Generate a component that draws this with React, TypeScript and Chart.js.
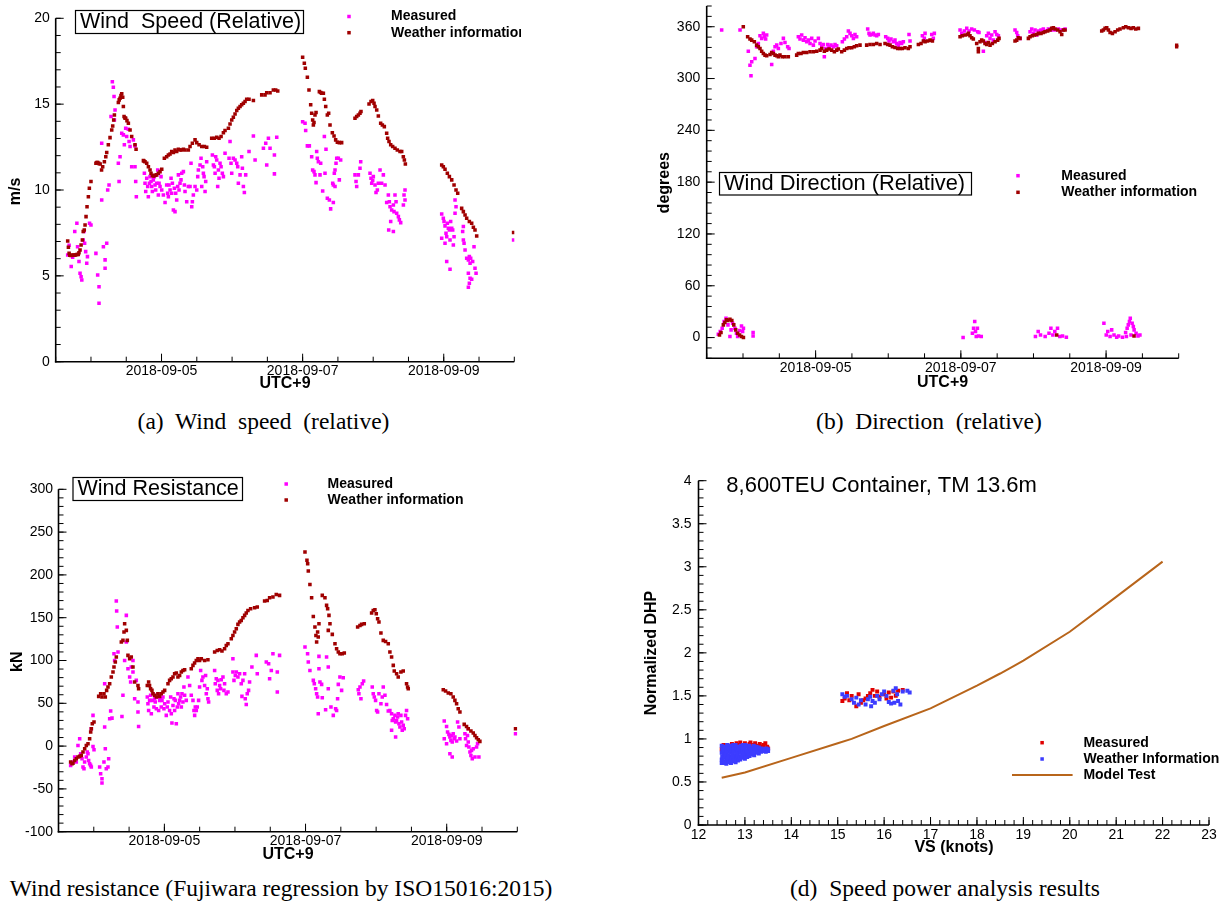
import React, { useEffect, useRef } from 'react';
import { Chart, registerables } from 'chart.js';

Chart.register(...registerables);

const SANS = "'Liberation Sans', Arial, Helvetica, sans-serif";
const SERIF = "'Liberation Serif', 'Times New Roman', serif";
const MAGENTA = '#ff00ff';
const DARKRED = '#a00000';
const RED = '#e00000';
const BLUE = '#3c3cff';
const BROWN = '#b8651b';

// ---------- tick values / labels ----------
const dateTickDays = [5, 7, 9];
const dateTickLabels = ['2018-09-05', '2018-09-07', '2018-09-09'];
const speedTicks = [0, 5, 10, 15, 20];
const directionTicks = [0, 60, 120, 180, 240, 300, 360];
const resistanceTicks = [-100, -50, 0, 50, 100, 150, 200, 250, 300];
const dhpTicks = [0, 0.5, 1, 1.5, 2, 2.5, 3, 3.5, 4];
const vsTicks = [12, 13, 14, 15, 16, 17, 18, 19, 20, 21, 22, 23];

// ---------- (a) wind speed, x = day of September 2018 ----------
const speedWeather = [
  [3.67, 7.03], [3.68, 6.66], [3.69, 6.31], [3.70, 6.2], [3.717, 6.18], [3.73, 6.2], [3.75, 6.22], [3.765, 6.2], [3.78, 6.22], [3.80, 6.24], [3.82, 6.25], [3.83, 6.35], [3.845, 6.51], [3.86, 6.8], [3.878, 7.09], [3.89, 7.58], [3.905, 7.67], [3.916, 7.96], [3.93, 8.45], [3.944, 9.03], [3.963, 9.61], [3.977, 10.1], [4.0, 10.49],
  [4.07, 11.56], [4.083, 11.6], [4.095, 11.6], [4.11, 11.55], [4.13, 11.52], [4.15, 11.17], [4.166, 11.36], [4.19, 11.65], [4.21, 11.94], [4.223, 12.18], [4.246, 12.63], [4.27, 13.05], [4.294, 13.5], [4.308, 13.73], [4.322, 14.08], [4.332, 14.37], [4.388, 15.09], [4.40, 15.25], [4.412, 15.34], [4.425, 15.5], [4.436, 15.6], [4.45, 15.4], [4.459, 14.86], [4.469, 14.28], [4.48, 14.2], [4.492, 14.18], [4.51, 14.04], [4.53, 13.89], [4.554, 13.5], [4.577, 13.11], [4.624, 12.63], [4.639, 12.37],
  [4.743, 11.71], [4.755, 11.68], [4.766, 11.65], [4.79, 11.56], [4.814, 11.36], [4.837, 11.17], [4.851, 10.97], [4.87, 10.84], [4.885, 10.82], [4.899, 10.84], [4.915, 10.86], [4.932, 10.88], [4.955, 10.97], [4.979, 11.07], [5.003, 11.21],
  [5.04, 11.85], [5.073, 11.94], [5.097, 12.04], [5.121, 12.1], [5.144, 12.24], [5.168, 12.18], [5.191, 12.33], [5.215, 12.24], [5.239, 12.37], [5.262, 12.33], [5.286, 12.33], [5.31, 12.37], [5.333, 12.33],
  [5.38, 12.33], [5.404, 12.53], [5.437, 12.72], [5.475, 12.92], [5.499, 12.76], [5.532, 12.63], [5.57, 12.53], [5.607, 12.53], [5.64, 12.49],
  [5.711, 13.01], [5.749, 13.01], [5.782, 13.07], [5.815, 13.01], [5.844, 13.11], [5.877, 13.34], [5.9, 13.46],
  [5.948, 13.6], [5.971, 13.85], [5.995, 14.08], [6.018, 14.24], [6.042, 14.43], [6.066, 14.63], [6.089, 14.76], [6.113, 14.86], [6.136, 14.96], [6.16, 15.05], [6.184, 15.15], [6.207, 15.29], [6.24, 15.29], [6.302, 15.21],
  [6.42, 15.54], [6.467, 15.54], [6.491, 15.67], [6.538, 15.67], [6.585, 15.83], [6.618, 15.83], [6.647, 15.77],
  [7.0, 17.73], [7.024, 17.38], [7.038, 17.09], [7.067, 16.57], [7.09, 15.83], [7.114, 14.96], [7.128, 14.47], [7.142, 14.08], [7.152, 13.79], [7.161, 13.93], [7.175, 14.37], [7.19, 14.51], [7.237, 15.73], [7.255, 15.68], [7.27, 15.64], [7.294, 15.64], [7.308, 15.29], [7.327, 14.86], [7.35, 14.37], [7.369, 14.47], [7.388, 13.79], [7.421, 13.34], [7.445, 13.15], [7.468, 12.92], [7.492, 12.78], [7.52, 12.76], [7.553, 12.76],
  [7.742, 14.18], [7.766, 14.28], [7.79, 14.37], [7.813, 14.47], [7.827, 14.57],
  [7.941, 15.01], [7.969, 15.15], [7.993, 15.21], [8.012, 15.05], [8.026, 14.86], [8.05, 14.66], [8.073, 14.31], [8.106, 13.89], [8.13, 13.79], [8.158, 13.69], [8.191, 13.3], [8.205, 13.01], [8.224, 12.82], [8.248, 12.63], [8.276, 12.53], [8.309, 12.43], [8.342, 12.33], [8.38, 12.24], [8.404, 12.24], [8.427, 11.94], [8.442, 11.75], [8.456, 11.52],
  [8.971, 11.46], [8.994, 11.36], [9.018, 11.21], [9.051, 10.97], [9.08, 10.78], [9.113, 10.59], [9.146, 10.29], [9.174, 10.0], [9.198, 9.81],
  [9.254, 8.93], [9.278, 8.74], [9.302, 8.55], [9.325, 8.35], [9.363, 8.16], [9.396, 8.06], [9.42, 7.83], [9.443, 7.67], [9.467, 7.32],
  [9.99, 7.52],
];
const speedMeasured = [
  [3.67, 6.22], [3.69, 6.78], [3.72, 5.54], [3.74, 6.08], [3.77, 7.58], [3.80, 8.06], [3.81, 6.7], [3.83, 5.83], [3.845, 5.15], [3.86, 4.95], [3.87, 4.76], [3.89, 7.09], [3.90, 7.58], [3.91, 6.9], [3.925, 6.41], [3.94, 5.73], [3.95, 6.12], [3.98, 8.06], [4.0, 7.96],
  [4.07, 6.31], [4.095, 5.05], [4.114, 4.37], [4.114, 3.4], [4.152, 9.42], [4.176, 6.7], [4.2, 5.93], [4.2, 5.44], [4.223, 6.9], [4.237, 10.0], [4.256, 10.29], [4.152, 12.72], [4.284, 14.28], [4.303, 16.31], [4.317, 15.98], [4.327, 15.44], [4.341, 14.66], [4.332, 14.08], [4.388, 11.56], [4.398, 10.49], [4.412, 11.94], [4.436, 13.3], [4.459, 13.21], [4.473, 12.63], [4.492, 13.6], [4.506, 13.11], [4.53, 13.54], [4.54, 12.82], [4.554, 12.53], [4.577, 11.36], [4.601, 12.92], [4.624, 12.57], [4.624, 11.36], [4.634, 10.49], [4.643, 9.61],
  [4.757, 10.97], [4.766, 10.39], [4.776, 9.91], [4.79, 10.68], [4.804, 10.2], [4.813, 9.61], [4.828, 10.39], [4.837, 10.78], [4.851, 10.49], [4.861, 10.2], [4.87, 9.91], [4.884, 10.59], [4.898, 10.78], [4.908, 10.29], [4.917, 10.0], [4.932, 10.39], [4.946, 11.17], [4.955, 9.71], [4.965, 10.39], [4.979, 10.2], [4.993, 10.78], [5.003, 10.0], [5.026, 9.71], [5.05, 9.27], [5.073, 10.29], [5.087, 9.81], [5.097, 9.61], [5.106, 10.29], [5.121, 10.0], [5.135, 10.68], [5.144, 9.81], [5.154, 10.39], [5.168, 8.84], [5.182, 10.1], [5.191, 8.74], [5.201, 9.81], [5.215, 9.42], [5.229, 10.2], [5.239, 10.88], [5.248, 10.0], [5.262, 10.39], [5.276, 10.59], [5.286, 10.97], [5.31, 11.07], [5.324, 10.29], [5.333, 9.91], [5.357, 9.32], [5.38, 10.2], [5.404, 10.2], [5.418, 11.56], [5.428, 9.03], [5.437, 9.32], [5.451, 9.71], [5.475, 10.2], [5.499, 10.0], [5.513, 10.78], [5.522, 11.17], [5.546, 11.46], [5.56, 11.85], [5.57, 10.2], [5.584, 11.36], [5.593, 10.97], [5.603, 10.78], [5.617, 9.91], [5.626, 10.49], [5.64, 11.65],
  [5.721, 12.04], [5.735, 11.46], [5.749, 11.36], [5.759, 10.97], [5.768, 11.94], [5.782, 11.75], [5.796, 10.2], [5.806, 11.17], [5.815, 10.68], [5.829, 11.56], [5.844, 11.36], [5.862, 10.97], [5.877, 10.78], [5.9, 12.14], [5.957, 11.85], [5.971, 12.82], [5.985, 11.56], [5.995, 10.97], [6.018, 11.85], [6.042, 11.75], [6.066, 11.56], [6.08, 11.36], [6.089, 10.39], [6.113, 10.88], [6.136, 11.94], [6.146, 11.27], [6.16, 10.2], [6.174, 9.85], [6.193, 10.88], [6.24, 12.24], [6.302, 13.15], [6.326, 11.75], [6.444, 12.43], [6.477, 12.72], [6.491, 11.46], [6.515, 13.01], [6.538, 12.43], [6.6, 12.04], [6.6, 10.94], [6.633, 13.07],
  [7.0, 13.98], [7.034, 13.89], [7.043, 13.46], [7.067, 12.57], [7.095, 12.57], [7.128, 11.94], [7.142, 11.17], [7.161, 11.07], [7.175, 10.88], [7.19, 10.43], [7.199, 12.24], [7.208, 11.85], [7.223, 11.65], [7.246, 10.88], [7.256, 11.56], [7.284, 9.94], [7.308, 13.11], [7.317, 10.97], [7.331, 12.37], [7.35, 9.52], [7.379, 9.42], [7.397, 8.9], [7.426, 10.39], [7.435, 9.27], [7.449, 10.97], [7.459, 11.17], [7.473, 11.56], [7.483, 11.85], [7.506, 11.85], [7.52, 10.59], [7.539, 11.75], [7.459, 10.2], [7.435, 10.29],
  [7.742, 10.88], [7.757, 10.49], [7.766, 10.2], [7.79, 10.88], [7.813, 11.27], [7.823, 11.65], [7.955, 10.97], [7.969, 10.68], [7.979, 10.39], [7.993, 10.55], [8.002, 10.78], [8.026, 10.29], [8.04, 9.85], [8.059, 10.0], [8.073, 10.39], [8.097, 11.17], [8.12, 10.39], [8.144, 10.88], [8.168, 10.29], [8.191, 9.27], [8.215, 9.71], [8.229, 9.32], [8.239, 9.03], [8.248, 8.16], [8.262, 8.84], [8.286, 9.13], [8.295, 8.74], [8.309, 9.71], [8.324, 9.32], [8.333, 8.64], [8.357, 8.45], [8.371, 8.26], [8.39, 8.1], [8.286, 7.58], [8.22, 7.67], [8.428, 9.13], [8.451, 10.0], [8.451, 9.42], [8.437, 9.71],
  [8.971, 8.6], [8.994, 8.35], [9.004, 8.16], [9.018, 7.91], [9.032, 7.48], [9.042, 7.28], [9.051, 8.06], [9.065, 7.77], [9.08, 7.67], [9.089, 7.09], [9.098, 8.16], [9.113, 7.77], [9.127, 7.67], [9.136, 6.8], [9.146, 7.28], [9.16, 9.42], [9.16, 8.64], [9.174, 9.03], [9.042, 5.83], [9.089, 5.38], [8.971, 7.19], [9.018, 6.9], [9.268, 7.58], [9.278, 7.09], [9.288, 6.9], [9.302, 6.51], [9.325, 6.02], [9.349, 5.93], [9.363, 6.12], [9.373, 5.73], [9.382, 6.02], [9.41, 5.83], [9.429, 6.7], [9.443, 5.44], [9.458, 5.15], [9.349, 5.15], [9.373, 4.86], [9.396, 4.8], [9.363, 4.57], [9.349, 4.33], [9.278, 7.87],
  [9.99, 7.09],
];

// ---------- (b) wind direction ----------
const directionWeather = [
  [3.676, 3.1], [3.697, 5.8], [3.729, 14.7], [3.75, 17.4], [3.772, 20.5], [3.793, 19.7], [3.82, 21.3], [3.846, 19.7], [3.873, 14.7], [3.899, 8.9], [3.926, 5.0], [3.953, 3.1], [3.979, 1.2], [4.006, 0],
  [4.004, 360], [4.064, 348.4], [4.096, 345.7], [4.12, 344.5], [4.156, 342.6], [4.188, 338.7], [4.211, 336.8], [4.234, 334.9], [4.257, 331.7], [4.28, 329.0], [4.303, 327.1], [4.326, 326.3],
  [4.372, 327.9], [4.395, 330.2], [4.418, 329.0], [4.441, 327.1], [4.464, 326.3], [4.487, 325.2], [4.509, 327.1], [4.541, 325.2], [4.578, 325.2], [4.624, 325.2],
  [4.739, 327.1], [4.762, 329.0], [4.799, 329.0], [4.831, 330.2], [4.877, 330.2], [4.923, 331.0], [4.969, 331.0], [5.015, 331.7],
  [5.061, 332.9], [5.084, 334.9], [5.12, 331.7], [5.152, 332.9], [5.184, 334.1], [5.221, 332.9], [5.258, 331.0], [5.29, 332.9], [5.313, 334.1],
  [5.359, 331.0], [5.396, 332.9], [5.428, 334.9], [5.46, 335.6], [5.497, 335.6], [5.533, 336.8], [5.565, 337.9], [5.611, 338.7],
  [5.703, 338.7], [5.749, 339.5], [5.795, 339.5], [5.841, 340.6], [5.887, 339.5],
  [5.956, 340.6], [5.993, 339.5], [6.025, 338.7], [6.057, 336.8], [6.093, 336.0], [6.13, 334.9], [6.162, 334.9], [6.194, 334.9], [6.231, 335.6], [6.277, 334.9], [6.3, 336.8],
  [6.415, 339.5], [6.452, 340.6], [6.484, 343.4], [6.507, 342.6], [6.543, 343.4], [6.576, 344.5], [6.608, 343.4],
  [6.989, 348.4], [7.021, 349.6], [7.058, 350.3], [7.094, 351.1], [7.104, 352.3], [7.126, 349.6], [7.149, 347.2], [7.172, 345.7], [7.218, 340.6], [7.241, 334.9], [7.241, 331.0], [7.264, 342.6], [7.287, 344.5], [7.31, 343.4], [7.333, 340.6], [7.356, 339.5], [7.379, 341.8], [7.402, 338.7], [7.434, 340.6], [7.471, 342.6], [7.507, 344.5], [7.526, 346.5],
  [7.746, 343.4], [7.769, 344.5], [7.792, 347.2], [7.815, 346.5],
  [7.93, 346.5], [7.953, 348.4], [7.985, 349.6], [8.012, 350.3], [8.045, 351.1], [8.068, 352.3], [8.104, 352.3], [8.136, 353.4], [8.159, 354.2], [8.196, 355.0], [8.228, 356.1], [8.251, 358.1], [8.274, 358.8], [8.297, 357.3], [8.334, 356.1], [8.366, 354.2], [8.389, 351.1], [8.412, 356.1], [8.435, 356.1],
  [8.32, 3.1], [9.385, 1.9],
  [8.94, 355.0], [8.963, 356.1], [8.986, 358.1], [9.009, 358.8], [9.032, 356.1], [9.055, 353.4], [9.087, 352.3], [9.124, 354.2], [9.16, 356.1], [9.192, 357.3],
  [9.238, 358.8], [9.271, 360.0], [9.307, 358.8], [9.344, 358.1], [9.376, 358.8], [9.408, 357.3], [9.445, 358.1],
  [9.973, 336.8], [9.973, 338.5],
];
const directionMeasured = [
  [3.706, 356.1], [3.959, 356.1], [4.073, 331.7], [4.096, 315.5], [4.11, 303.1], [4.12, 319.4], [4.165, 323.2], [4.188, 336.8], [4.211, 340.6], [4.234, 349.6], [4.257, 346.5], [4.28, 352.3], [4.294, 348.4], [4.312, 345.7], [4.326, 350.3],
  [4.395, 316.3], [4.418, 331.7], [4.441, 336.8], [4.464, 338.7], [4.487, 334.9], [4.523, 340.6], [4.556, 346.5], [4.578, 341.8], [4.615, 336.8], [4.634, 334.9],
  [4.762, 348.4], [4.785, 345.7], [4.808, 350.3], [4.831, 344.5], [4.854, 347.2], [4.877, 342.6], [4.9, 344.5], [4.923, 340.6], [4.946, 346.5], [4.969, 338.7], [4.992, 343.4], [5.038, 346.5], [5.061, 340.6], [5.084, 336.8], [5.106, 339.5], [5.12, 325.2], [5.139, 334.9], [5.166, 339.5], [5.184, 336.8], [5.212, 338.7], [5.244, 336.8], [5.267, 339.5], [5.29, 337.9],
  [5.368, 342.6], [5.396, 345.7], [5.428, 348.4], [5.451, 355.0], [5.474, 352.3], [5.497, 349.6], [5.52, 346.5], [5.542, 351.1], [5.565, 348.4],
  [5.717, 357.3], [5.735, 352.3], [5.749, 350.3], [5.772, 351.1], [5.795, 352.3], [5.818, 350.3], [5.841, 349.6], [5.864, 351.1],
  [5.965, 348.4], [5.993, 346.5], [6.011, 343.4], [6.038, 345.7], [6.07, 342.6], [6.093, 344.5], [6.116, 340.6], [6.139, 338.7], [6.162, 341.8], [6.185, 340.6], [6.208, 342.6], [6.286, 351.1], [6.3, 343.4],
  [6.47, 349.6], [6.497, 346.5], [6.507, 352.3], [6.599, 351.1], [6.621, 346.5], [6.635, 352.3],
  [6.989, 356.1], [7.012, 352.3], [7.048, 355.0], [7.081, 358.1], [7.113, 355.0], [7.149, 357.3], [7.186, 356.1], [7.232, 354.2], [7.25, 353.4],
  [7.31, 331.7], [7.333, 341.8], [7.356, 349.6], [7.379, 352.3], [7.402, 346.5], [7.425, 350.3], [7.448, 344.5], [7.471, 354.2], [7.494, 351.1], [7.517, 349.6],
  [7.746, 356.1], [7.769, 353.4], [7.783, 349.6], [7.815, 346.5],
  [7.953, 354.2], [7.976, 357.3], [7.999, 352.3], [8.022, 356.1], [8.045, 350.3], [8.068, 355.0], [8.104, 356.1], [8.136, 357.3], [8.159, 355.0], [8.205, 357.3], [8.251, 356.1], [8.297, 356.1], [8.343, 357.3], [8.389, 356.1], [8.435, 357.3],
  [3.66, 3.9], [3.686, 7.0], [3.713, 10.8], [3.74, 18.6], [3.766, 22.4], [3.793, 14.7], [3.82, 1.2], [3.836, 8.9], [3.857, 16.6], [3.889, 10.8], [3.91, 5.0], [3.926, 1.2], [3.953, 8.1], [3.979, 13.5], [3.995, 7.0], [4.006, 10.8], [4.139, 5.8], [4.139, 1.9],
  [7.031, 0], [7.159, 5.0], [7.175, 10.8], [7.191, 18.6], [7.202, 7.0], [7.212, 1.2], [7.244, 1.9], [7.281, 1.2], [7.228, 10.8],
  [8.027, 1.2], [8.065, 7.0], [8.097, 3.1], [8.161, 1.2], [8.214, 5.0], [8.24, 10.8], [8.267, 3.1], [8.294, 7.0], [8.331, 10.8], [8.363, 1.2], [8.4, 1.9], [8.453, 0.4],
  [8.97, 16.6], [9.002, 3.1], [9.023, 7.0], [9.055, 1.2], [9.077, 8.9], [9.109, 3.1], [9.146, 0.4], [9.173, 1.9], [9.226, 0.4], [9.269, 5.8], [9.29, 10.8], [9.306, 14.7], [9.322, 18.6], [9.333, 22.4], [9.359, 16.6], [9.375, 12.8], [9.386, 8.9], [9.413, 5.0], [9.439, 1.9], [9.466, 3.1], [9.343, 3.1], [9.28, 1.2],
];

// ---------- (c) wind resistance ----------
const resistanceWeather = [
  [3.672, -18.7], [3.691, -20.6], [3.705, -20.0], [3.729, -16.7], [3.752, -14.8], [3.776, -12.8], [3.8, -12.0], [3.823, -10.9], [3.847, -7.0], [3.871, -3.1], [3.894, 0.8], [3.918, 2.8], [3.941, 8.6], [3.956, 16.4], [3.965, 20.3], [3.979, 26.1], [4.003, 28.1],
  [4.069, 58.1], [4.097, 61.2], [4.116, 57.3], [4.144, 61.2], [4.163, 57.3], [4.182, 65.1], [4.201, 69.0], [4.225, 72.9], [4.248, 80.7], [4.272, 86.5], [4.286, 92.3], [4.305, 98.2], [4.319, 104.0], [4.39, 121.5], [4.413, 123.5], [4.428, 133.2], [4.437, 142.9], [4.461, 135.2], [4.475, 123.5], [4.484, 106.0], [4.508, 102.1], [4.531, 104.0], [4.555, 92.3], [4.579, 74.8], [4.626, 70.9], [4.635, 67.0],
  [4.758, 70.9], [4.777, 74.8], [4.79, 70.9], [4.805, 67.0], [4.824, 65.1], [4.838, 61.2], [4.862, 59.3], [4.886, 57.3], [4.909, 61.2], [4.933, 58.1], [4.956, 61.2], [4.98, 63.1], [5.004, 65.1],
  [5.051, 72.9], [5.074, 76.8], [5.098, 78.7], [5.122, 80.7], [5.145, 84.6], [5.169, 85.4], [5.192, 80.7], [5.216, 82.6], [5.24, 86.5], [5.263, 88.4], [5.287, 89.2],
  [5.381, 90.4], [5.405, 94.3], [5.428, 97.0], [5.452, 100.1], [5.476, 102.1], [5.499, 100.1], [5.523, 102.1], [5.57, 100.1], [5.617, 100.9],
  [5.712, 109.9], [5.749, 111.8], [5.783, 112.6], [5.816, 111.0], [5.853, 113.8], [5.877, 117.6], [5.901, 119.6],
  [5.948, 125.4], [5.971, 129.3], [5.995, 133.2], [6.019, 137.1], [6.042, 142.2], [6.066, 144.9], [6.089, 146.8], [6.113, 150.0], [6.137, 152.7], [6.16, 155.4], [6.184, 158.5], [6.222, 160.5], [6.278, 161.7], [6.316, 162.4],
  [6.42, 169.4], [6.457, 170.2], [6.491, 173.3], [6.538, 174.1], [6.585, 177.2], [6.632, 176.1],
  [6.992, 226.7], [7.02, 217.0], [7.03, 213.0], [7.039, 204.5], [7.062, 188.9], [7.086, 173.3], [7.11, 151.5], [7.133, 139.1], [7.147, 129.3], [7.157, 121.5], [7.171, 133.2], [7.18, 127.4], [7.19, 143.0], [7.237, 176.1], [7.275, 173.3], [7.298, 164.4], [7.313, 160.5], [7.322, 135.2], [7.332, 152.7], [7.346, 143.0], [7.379, 130.5], [7.417, 119.6], [7.44, 113.7], [7.464, 109.9], [7.487, 107.9], [7.52, 107.9], [7.549, 108.7],
  [7.738, 139.1], [7.771, 141.0], [7.794, 142.2], [7.832, 143.0],
  [7.936, 155.4], [7.959, 158.5], [7.983, 159.3], [8.002, 154.6], [8.021, 148.8], [8.04, 144.9], [8.068, 132.1], [8.101, 123.5], [8.134, 122.3], [8.172, 119.6], [8.195, 109.9], [8.219, 104.0], [8.243, 94.3], [8.257, 87.7], [8.29, 84.6], [8.313, 80.7], [8.351, 86.5], [8.384, 87.7], [8.431, 72.9], [8.446, 69.0], [8.455, 67.0],
  [8.951, 65.9], [8.984, 64.3], [9.022, 62.0], [9.059, 61.2], [9.092, 57.3], [9.116, 53.4], [9.14, 49.5], [9.163, 43.7], [9.187, 39.8],
  [9.248, 25.4], [9.281, 23.0], [9.305, 20.3], [9.343, 17.6], [9.376, 15.2], [9.4, 12.5], [9.423, 9.8], [9.447, 7.4], [9.47, 5.5],
  [9.975, 20.3],
];
const resistanceMeasured = [
  [3.672, -22.5], [3.705, -18.6], [3.729, -12.8], [3.752, -18.6], [3.776, 0.8], [3.8, 8.6], [3.814, -8.9], [3.833, -14.8], [3.847, -24.5], [3.861, -26.4], [3.87, -18.6], [3.894, -12.8], [3.908, -7.0], [3.918, -8.9], [3.927, -16.7], [3.941, -20.6], [3.955, -22.5], [3.965, -24.5], [3.989, -0.4], [4.003, -4.2], [3.965, 20.3], [3.989, 35.9],
  [4.083, -24.5], [4.097, -32.3], [4.116, -38.1], [4.116, -43.2], [4.144, -18.6], [4.163, -3.1], [4.177, -26.4], [4.201, -24.5], [4.211, -14.8], [4.154, 22.2], [4.225, 32.0], [4.239, 40.9], [4.258, 32.7], [4.154, 72.9], [4.286, 107.9], [4.295, 100.1], [4.319, 169.4], [4.324, 157.8], [4.333, 139.1], [4.343, 109.9], [4.413, 59.3], [4.399, 34.7], [4.437, 100.1], [4.461, 152.7], [4.461, 121.5], [4.484, 90.4], [4.508, 80.7], [4.522, 74.8], [4.531, 92.3], [4.555, 100.1], [4.579, 55.3], [4.602, 76.8], [4.626, 51.4], [4.626, 39.8], [4.635, 23.0], [4.555, 86.5],
  [4.758, 57.3], [4.767, 49.5], [4.777, 41.7], [4.791, 53.4], [4.805, 59.3], [4.815, 37.8], [4.828, 53.4], [4.838, 61.2], [4.852, 45.6], [4.862, 55.3], [4.871, 51.4], [4.886, 43.6], [4.9, 57.3], [4.909, 61.2], [4.919, 41.7], [4.933, 53.4], [4.947, 55.3], [4.956, 45.6], [4.966, 53.4], [4.98, 57.3], [4.994, 43.6], [5.004, 49.5], [5.027, 35.9], [5.041, 45.6], [5.051, 51.4], [5.074, 41.7], [5.089, 57.3], [5.098, 37.8], [5.107, 26.9], [5.122, 47.5], [5.136, 55.3], [5.145, 41.7], [5.155, 53.4], [5.169, 26.1], [5.183, 45.6], [5.192, 61.2], [5.202, 49.5], [5.216, 53.4], [5.23, 57.3], [5.24, 45.6], [5.249, 61.2], [5.263, 51.4], [5.277, 69.0], [5.287, 59.3], [5.31, 53.4], [5.334, 80.7], [5.358, 70.9], [5.381, 59.3], [5.405, 53.4], [5.419, 41.7], [5.429, 35.9], [5.438, 45.6], [5.452, 41.7], [5.466, 45.6], [5.485, 53.4], [5.499, 69.0], [5.514, 88.4], [5.532, 76.8], [5.546, 80.7], [5.57, 70.9], [5.584, 82.6], [5.594, 61.2], [5.608, 67.0], [5.617, 55.3], [5.627, 51.4],
  [5.712, 88.4], [5.721, 72.9], [5.735, 78.7], [5.749, 65.1], [5.759, 76.8], [5.768, 61.2], [5.783, 70.9], [5.797, 67.0], [5.806, 77.5], [5.83, 80.7], [5.844, 65.1], [5.853, 72.9], [5.877, 61.2], [5.901, 63.1],
  [5.971, 102.1], [5.971, 86.5], [5.986, 76.8], [6.005, 82.6], [6.019, 86.5], [6.042, 80.7], [6.066, 84.6], [6.089, 72.9], [6.099, 58.1], [6.113, 76.8], [6.137, 84.6], [6.146, 55.3], [6.16, 48.7], [6.174, 61.2], [6.193, 65.1], [6.207, 74.8], [6.24, 92.3], [6.302, 106.0], [6.316, 84.6], [6.444, 98.2], [6.477, 96.3], [6.491, 78.7], [6.515, 88.4], [6.538, 107.9], [6.6, 86.5], [6.6, 63.1], [6.632, 106.0],
  [6.992, 115.7], [7.029, 107.9], [7.039, 98.2], [7.062, 88.4], [7.11, 76.8], [7.124, 72.9], [7.143, 67.0], [7.157, 61.2], [7.171, 57.3], [7.19, 104.8], [7.19, 90.4], [7.204, 74.8], [7.228, 72.1], [7.237, 56.5], [7.18, 37.8], [7.284, 42.5], [7.298, 104.0], [7.322, 92.3], [7.322, 67.0], [7.36, 45.6], [7.393, 35.9], [7.426, 43.6], [7.44, 41.7], [7.454, 55.3], [7.464, 72.1], [7.487, 80.7], [7.511, 65.1], [7.534, 79.9],
  [7.747, 65.9], [7.756, 61.2], [7.771, 69.0], [7.785, 55.3], [7.804, 72.9], [7.823, 76.0],
  [7.945, 69.0], [7.959, 61.2], [7.974, 57.3], [7.992, 53.4], [8.007, 41.7], [8.021, 39.8], [8.04, 61.2], [8.068, 49.5], [8.087, 57.3], [8.101, 69.0], [8.125, 59.3], [8.148, 48.7], [8.172, 40.9], [8.195, 41.7], [8.219, 37.8], [8.228, 30.0], [8.243, 32.0], [8.266, 35.9], [8.276, 28.1], [8.29, 30.0], [8.304, 33.9], [8.313, 37.8], [8.323, 26.1], [8.337, 22.2], [8.351, 35.9], [8.361, 28.1], [8.384, 24.2], [8.398, 20.3], [8.417, 35.9], [8.431, 41.7], [8.446, 32.0], [8.219, 18.4], [8.276, 10.6], [8.37, 18.4],
  [8.965, 29.3], [8.998, 23.0], [9.012, 16.4], [9.031, 13.7], [9.045, 10.6], [9.059, 6.7], [9.069, 12.5], [9.078, 4.7], [9.092, 14.5], [9.107, 8.6], [9.116, 10.6], [9.14, 5.9], [9.154, 28.1], [9.173, 22.2], [9.187, 8.6], [9.045, -8.9], [9.078, -12.8], [8.965, 8.6], [8.998, 2.8],
  [9.258, 14.5], [9.267, 8.6], [9.281, 0.8], [9.295, 12.5], [9.305, 4.7], [9.314, -1.1], [9.329, -7.0], [9.343, -10.9], [9.352, -5.0], [9.362, -14.8], [9.376, -3.1], [9.4, -12.8], [9.423, -1.1], [9.437, 2.8], [9.456, -12.8], [9.305, 20.3],
  [9.975, 14.5],
];

// ---------- (d) speed-power ----------
const dhpMeasured = [
  [12.5, 0.88], [12.52, 0.91], [12.54, 0.93], [12.55, 0.86], [12.58, 0.9], [12.6, 0.84], [12.62, 0.93], [12.66, 0.88], [12.68, 0.91], [12.72, 0.94], [12.75, 0.87], [12.78, 0.92], [12.82, 0.95], [12.86, 0.93], [12.9, 0.96], [12.92, 0.89], [12.95, 0.93], [13.0, 0.95], [13.05, 0.92], [13.08, 0.9], [13.1, 0.94], [13.12, 0.96], [13.18, 0.93], [13.22, 0.95], [13.25, 0.9], [13.28, 0.92], [13.32, 0.94], [13.36, 0.91], [13.4, 0.93], [13.42, 0.88], [13.44, 0.95], [13.48, 0.91], [13.5, 0.89],
  [15.1, 1.44], [15.15, 1.47], [15.2, 1.53], [15.25, 1.45], [15.3, 1.5], [15.4, 1.38], [15.45, 1.52], [15.5, 1.42], [15.55, 1.45], [15.6, 1.47], [15.65, 1.5], [15.7, 1.53], [15.75, 1.57], [15.8, 1.5], [15.85, 1.55], [15.9, 1.49], [16.0, 1.52], [16.05, 1.47], [16.1, 1.54], [16.15, 1.48], [16.2, 1.55], [16.25, 1.5], [16.3, 1.56], [16.4, 1.57],
];
const dhpWeather = [
  [12.5, 0.72], [12.5, 0.76], [12.51, 0.8], [12.5, 0.84], [12.51, 0.88], [12.5, 0.92],
  [12.55, 0.74], [12.56, 0.78], [12.55, 0.83], [12.54, 0.87], [12.56, 0.91],
  [12.6, 0.71], [12.61, 0.75], [12.6, 0.79], [12.59, 0.82], [12.61, 0.86], [12.6, 0.9], [12.62, 0.93],
  [12.65, 0.73], [12.66, 0.77], [12.64, 0.81], [12.65, 0.85], [12.66, 0.89],
  [12.7, 0.72], [12.71, 0.76], [12.7, 0.8], [12.69, 0.84], [12.71, 0.88], [12.7, 0.92],
  [12.75, 0.74], [12.76, 0.78], [12.74, 0.82], [12.75, 0.86], [12.76, 0.9], [12.75, 0.93],
  [12.8, 0.73], [12.81, 0.77], [12.8, 0.81], [12.79, 0.85], [12.81, 0.89], [12.8, 0.93],
  [12.85, 0.75], [12.86, 0.79], [12.84, 0.83], [12.85, 0.87], [12.86, 0.91],
  [12.9, 0.76], [12.91, 0.8], [12.9, 0.84], [12.89, 0.88], [12.91, 0.92],
  [12.95, 0.78], [12.96, 0.82], [12.95, 0.86], [12.94, 0.9], [12.96, 0.93],
  [13.0, 0.77], [13.01, 0.81], [13.0, 0.85], [12.99, 0.89], [13.01, 0.93],
  [13.05, 0.79], [13.06, 0.83], [13.05, 0.87], [13.04, 0.91],
  [13.1, 0.8], [13.11, 0.84], [13.1, 0.88], [13.09, 0.92],
  [13.15, 0.82], [13.16, 0.86], [13.15, 0.9],
  [13.2, 0.81], [13.21, 0.85], [13.2, 0.89], [13.19, 0.92],
  [13.25, 0.84], [13.26, 0.88], [13.25, 0.91],
  [13.3, 0.83], [13.31, 0.87], [13.3, 0.9],
  [13.35, 0.85], [13.36, 0.89], [13.4, 0.86], [13.41, 0.88], [13.45, 0.85], [13.46, 0.89], [13.5, 0.86], [13.5, 0.88],
  [12.52, 0.74], [12.57, 0.72], [12.63, 0.77], [12.68, 0.74], [12.73, 0.8], [12.78, 0.75], [12.83, 0.81], [12.88, 0.78], [12.93, 0.8], [12.98, 0.83], [13.03, 0.85], [13.08, 0.82], [13.13, 0.88], [13.18, 0.84], [13.23, 0.86], [13.28, 0.85], [13.33, 0.88], [13.38, 0.87], [13.43, 0.87], [13.48, 0.87],
  [15.1, 1.52], [15.15, 1.49], [15.2, 1.5], [15.3, 1.46], [15.35, 1.42], [15.4, 1.48], [15.45, 1.4], [15.5, 1.45], [15.6, 1.4], [15.65, 1.46], [15.7, 1.49], [15.72, 1.38], [15.75, 1.44], [15.8, 1.42], [15.85, 1.5], [15.9, 1.46], [15.95, 1.52], [16.0, 1.55], [16.05, 1.5], [16.1, 1.43], [16.15, 1.41], [16.2, 1.56], [16.22, 1.42], [16.25, 1.59], [16.28, 1.52], [16.3, 1.44], [16.35, 1.4], [16.4, 1.55], [16.5, 1.56], [16.55, 1.54],
];
const modelTestVs = [12.5, 13, 14, 15, 15.3, 16, 17, 18, 18.5, 18.8, 19, 20, 21, 22];
const modelTestDhp = [0.55, 0.61, 0.78, 0.95, 1.0, 1.15, 1.355, 1.62, 1.76, 1.85, 1.91, 2.245, 2.65, 3.06];

// ---------- helpers ----------
const toXY = (pairs: number[][]) => pairs.map(([x, y]) => ({ x, y }));
function steps(from: number, to: number, step: number) {
  const out: number[] = [];
  const n = Math.round((to - from) / step);
  for (let i = 0; i <= n; i++) out.push(+(from + i * step).toFixed(6));
  return out;
}

type TextItem = { text: string; x: number; y: number; size: number; bold?: boolean; align?: CanvasTextAlign; rotate?: boolean };
type LegendItem = { x: number; y: number; color: string; line?: number };
type Decor = {
  xMajor: number[]; xMinor: number[]; yMajor: number[]; yMinor: number[];
  texts: TextItem[]; boxes: { x: number; y: number; w: number; h: number }[]; legend: LegendItem[];
};

function makeDecor(d: Decor) {
  return {
    id: 'decor',
    afterDatasetsDraw(chart: any) {
      const { ctx, chartArea: a, scales } = chart;
      const xs = scales.x;
      const ys = scales.y;
      ctx.save();
      ctx.strokeStyle = '#000';
      const line = (x1: number, y1: number, x2: number, y2: number) => {
        ctx.beginPath(); ctx.moveTo(x1, y1); ctx.lineTo(x2, y2); ctx.stroke();
      };
      ctx.lineWidth = 1;
      d.xMinor.forEach((v) => { const p = xs.getPixelForValue(v); line(p, a.bottom, p, a.bottom - 5); });
      d.xMajor.forEach((v) => { const p = xs.getPixelForValue(v); line(p, a.bottom, p, a.bottom - 8); });
      d.yMinor.forEach((v) => { const p = ys.getPixelForValue(v); line(a.left, p, a.left + 5, p); });
      d.yMajor.forEach((v) => { const p = ys.getPixelForValue(v); line(a.left, p, a.left + 8, p); });
      ctx.lineWidth = 1.6;
      line(a.left, a.top, a.left, a.bottom + 0.8);
      line(a.left - 0.8, a.bottom, a.right, a.bottom);
      ctx.lineWidth = 1.2;
      d.boxes.forEach((b) => ctx.strokeRect(b.x, b.y, b.w, b.h));
      ctx.fillStyle = '#000';
      d.texts.forEach((t) => {
        ctx.font = `${t.bold ? 'bold ' : ''}${t.size}px ${SANS}`;
        ctx.textAlign = t.align || 'left';
        ctx.textBaseline = 'middle';
        if (t.rotate) {
          ctx.save(); ctx.translate(t.x, t.y); ctx.rotate(-Math.PI / 2); ctx.fillText(t.text, 0, 0); ctx.restore();
        } else ctx.fillText(t.text, t.x, t.y);
      });
      d.legend.forEach((l) => {
        if (l.line) {
          ctx.strokeStyle = l.color; ctx.lineWidth = 2; line(l.x, l.y, l.line, l.y);
        } else {
          ctx.fillStyle = l.color; ctx.fillRect(l.x - 1.75, l.y - 1.75, 3.5, 3.5);
        }
      });
      ctx.restore();
    },
  };
}

type Area = { left: number; top: number; right: number; bottom: number };
function makeConfig(o: {
  width: number; height: number; area: Area; datasets: any[];
  xMin: number; xMax: number; xTicks: number[]; xLabel: (v: number) => string;
  yMin: number; yMax: number; yTicks: number[]; decor: Decor; xPad: number; yPad: number;
}) {
  const font = { family: SANS, size: 14 };
  return {
    type: 'scatter',
    data: { datasets: o.datasets },
    options: {
      responsive: false,
      animation: false,
      devicePixelRatio: 1,
      events: [],
      layout: { padding: { left: 0, top: o.area.top, right: o.width - o.area.right, bottom: 0 } },
      plugins: { legend: { display: false }, tooltip: { enabled: false }, title: { display: false } },
      scales: {
        x: {
          type: 'linear', min: o.xMin, max: o.xMax,
          grid: { display: false, drawTicks: false }, border: { display: false },
          afterBuildTicks: (s: any) => { s.ticks = o.xTicks.map((value) => ({ value })); },
          afterFit: (s: any) => { s.height = o.height - o.area.bottom; s.paddingLeft = 0; s.paddingRight = 0; },
          ticks: { font, color: '#000', padding: o.xPad, autoSkip: false, maxRotation: 0, minRotation: 0, callback: (v: any) => o.xLabel(Number(v)) },
        },
        y: {
          type: 'linear', min: o.yMin, max: o.yMax,
          grid: { display: false, drawTicks: false }, border: { display: false },
          afterBuildTicks: (s: any) => { s.ticks = o.yTicks.map((value) => ({ value })); },
          afterFit: (s: any) => { s.width = o.area.left; s.paddingTop = 0; s.paddingBottom = 0; },
          ticks: { font, color: '#000', padding: o.yPad, autoSkip: false, callback: (v: any) => String(v) },
        },
      },
    },
    plugins: [makeDecor(o.decor)],
  };
}

const dot = (label: string, pairs: number[][], color: string, order: number, radius = 2.5) => ({
  label, data: toXY(pairs), backgroundColor: color, borderColor: color, borderWidth: 0,
  pointStyle: 'rect', pointRadius: radius, pointHoverRadius: 0, pointBorderWidth: 0, order,
});
const dateLabel = (v: number) => {
  const i = dateTickDays.indexOf(v);
  return i >= 0 ? dateTickLabels[i] : '';
};
const timeTicksMinor = steps(3.5, 10, 0.5);

function Panel({ left, top, width, height, build }: { left: number; top: number; width: number; height: number; build: () => any }) {
  const ref = useRef<HTMLCanvasElement | null>(null);
  useEffect(() => {
    const chart = new Chart(ref.current as HTMLCanvasElement, build());
    return () => chart.destroy();
  }, []);
  return <canvas ref={ref} width={width} height={height} style={{ position: 'absolute', left, top, width, height }} />;
}

const buildSpeed = () => makeConfig({
  width: 521, height: 398, area: { left: 55.7, top: 18.3, right: 514.3, bottom: 361.7 },
  datasets: [dot('Measured', speedMeasured, MAGENTA, 1), dot('Weather information', speedWeather, DARKRED, 0)],
  xMin: 3.5, xMax: 10, xTicks: dateTickDays, xLabel: dateLabel, yMin: 0, yMax: 20, yTicks: speedTicks, xPad: 1, yPad: 6,
  decor: {
    xMajor: dateTickDays, xMinor: timeTicksMinor, yMajor: speedTicks, yMinor: steps(0, 20, 1),
    boxes: [{ x: 75.5, y: 10.5, w: 228, h: 23 }],
    texts: [
      { text: 'Wind  Speed (Relative)', x: 80, y: 22.5, size: 21.5 },
      { text: 'Measured', x: 391, y: 16.5, size: 14, bold: true },
      { text: 'Weather information', x: 391, y: 32.7, size: 14, bold: true },
      { text: 'm/s', x: 15.5, y: 191.5, size: 16, bold: true, rotate: true, align: 'center' },
      { text: 'UTC+9', x: 285, y: 384, size: 16, bold: true, align: 'center' },
    ],
    legend: [{ x: 349, y: 16.5, color: MAGENTA }, { x: 349, y: 32.7, color: DARKRED }],
  },
});

const buildDirection = () => makeConfig({
  width: 605, height: 398, area: { left: 86.7, top: 6, right: 558.7, bottom: 358.3 },
  datasets: [dot('Measured', directionMeasured, MAGENTA, 1), dot('Weather information', directionWeather, DARKRED, 0)],
  xMin: 3.5, xMax: 10, xTicks: dateTickDays, xLabel: dateLabel, yMin: -24, yMax: 384, yTicks: directionTicks, xPad: 1, yPad: 6.5,
  decor: {
    xMajor: dateTickDays, xMinor: timeTicksMinor, yMajor: directionTicks, yMinor: steps(-24, 384, 12),
    boxes: [{ x: 99.5, y: 172.5, w: 252, h: 22.5 }],
    texts: [
      { text: 'Wind Direction (Relative)', x: 104, y: 184, size: 21.8 },
      { text: 'Measured', x: 441.3, y: 175.7, size: 14, bold: true },
      { text: 'Weather information', x: 441.3, y: 192.3, size: 14, bold: true },
      { text: 'degrees', x: 44.2, y: 182.7, size: 16, bold: true, rotate: true, align: 'center' },
      { text: 'UTC+9', x: 322.6, y: 383, size: 16, bold: true, align: 'center' },
    ],
    legend: [{ x: 398, y: 175.7, color: MAGENTA }, { x: 398, y: 192.3, color: DARKRED }],
  },
});

const buildResistance = () => makeConfig({
  width: 540, height: 410, area: { left: 58.5, top: 34.3, right: 517.3, bottom: 376.7 },
  datasets: [dot('Measured', resistanceMeasured, MAGENTA, 1), dot('Weather information', resistanceWeather, DARKRED, 0)],
  xMin: 3.5, xMax: 10, xTicks: dateTickDays, xLabel: dateLabel, yMin: -100, yMax: 300, yTicks: resistanceTicks, xPad: 1, yPad: 5.5,
  decor: {
    xMajor: dateTickDays, xMinor: timeTicksMinor, yMajor: resistanceTicks, yMinor: steps(-100, 300, 10),
    boxes: [{ x: 73, y: 22.5, w: 169.5, h: 23 }],
    texts: [
      { text: 'Wind Resistance', x: 77.5, y: 34.3, size: 21.5 },
      { text: 'Measured', x: 327.6, y: 29.5, size: 14, bold: true },
      { text: 'Weather information', x: 327.6, y: 45.5, size: 14, bold: true },
      { text: 'kN', x: 17.1, y: 206.7, size: 16, bold: true, rotate: true, align: 'center' },
      { text: 'UTC+9', x: 288, y: 400, size: 16, bold: true, align: 'center' },
    ],
    legend: [{ x: 286.2, y: 29, color: MAGENTA }, { x: 286.2, y: 45, color: DARKRED }],
  },
});

const buildPower = () => makeConfig({
  width: 605, height: 405, area: { left: 78.5, top: 25.7, right: 589, bottom: 370 },
  datasets: [
    dot('Measured', dhpMeasured, RED, 1, 2.8),
    dot('Weather Information', dhpWeather, BLUE, 0, 2.8),
    {
      type: 'line', label: 'Model Test', data: modelTestVs.map((x, i) => ({ x, y: modelTestDhp[i] })),
      borderColor: BROWN, borderWidth: 2, pointRadius: 0, showLine: true, fill: false, tension: 0, order: 2,
    },
  ],
  xMin: 12, xMax: 23, xTicks: vsTicks, xLabel: (v) => String(v), yMin: 0, yMax: 4, yTicks: dhpTicks, xPad: 1.5, yPad: 7,
  decor: {
    xMajor: vsTicks, xMinor: steps(12, 23, 0.2), yMajor: dhpTicks, yMinor: steps(0, 4, 0.1),
    boxes: [],
    texts: [
      { text: '8,600TEU Container, TM 13.6m', x: 106.3, y: 31, size: 22 },
      { text: 'Measured', x: 463.4, y: 287.7, size: 14, bold: true },
      { text: 'Weather Information', x: 463.4, y: 304, size: 14, bold: true },
      { text: 'Model Test', x: 463.4, y: 320, size: 14, bold: true },
      { text: 'Normalized DHP', x: 31.7, y: 198, size: 16, bold: true, rotate: true, align: 'center' },
      { text: 'VS (knots)', x: 334, y: 393, size: 16, bold: true, align: 'center' },
    ],
    legend: [{ x: 422.1, y: 287.7, color: RED }, { x: 422.1, y: 304, color: BLUE }, { x: 392, y: 320, color: BROWN, line: 452.6 }],
  },
});

const captionStyle = (cx: number, cy: number): React.CSSProperties => ({
  position: 'absolute', left: cx - 320, top: cy - 14, width: 640, height: 28, lineHeight: '28px',
  textAlign: 'center', fontFamily: SERIF, fontSize: 23.5, color: '#000', whiteSpace: 'nowrap',
});

export default function App() {
  return (
    <div style={{ position: 'absolute', left: 0, top: 0, width: 1225, height: 902, background: '#fff', overflow: 'hidden' }}>
      <Panel left={0} top={0} width={521} height={398} build={buildSpeed} />
      <Panel left={620} top={0} width={605} height={398} build={buildDirection} />
      <Panel left={0} top={455} width={540} height={410} build={buildResistance} />
      <Panel left={620} top={455} width={605} height={405} build={buildPower} />
      <div style={captionStyle(263.5, 421)}>(a)&nbsp; Wind&nbsp; speed&nbsp; (relative)</div>
      <div style={captionStyle(929, 421)}>(b)&nbsp; Direction&nbsp; (relative)</div>
      <div style={captionStyle(281, 888)}>Wind resistance (Fujiwara regression by ISO15016:2015)</div>
      <div style={captionStyle(945, 888)}>(d)&nbsp; Speed power analysis results</div>
    </div>
  );
}
